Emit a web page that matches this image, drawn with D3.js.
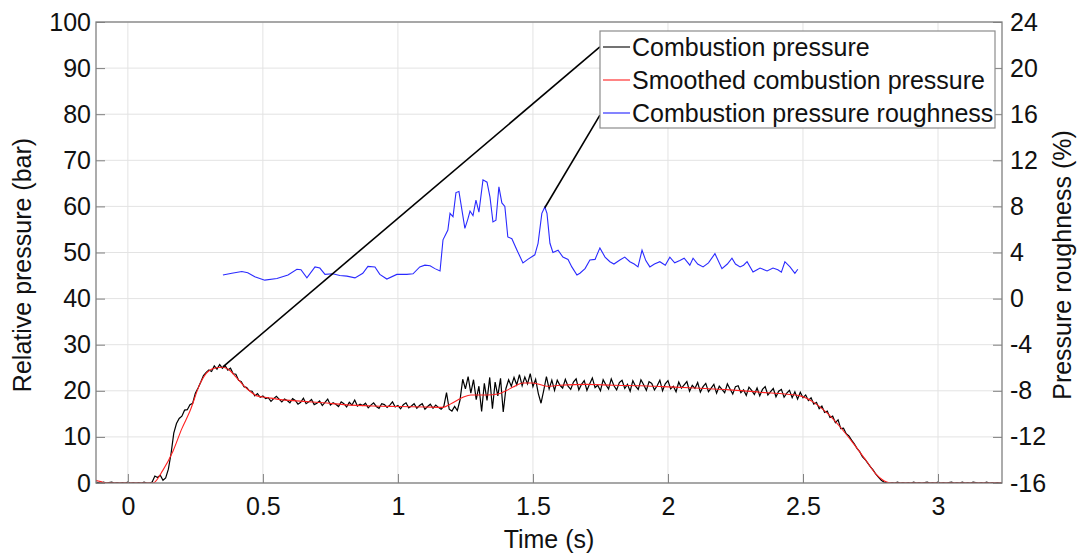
<!DOCTYPE html>
<html>
<head>
<meta charset="utf-8">
<script src="https://cdn.jsdelivr.net/npm/d3@7"></script>
<style>
body { margin: 0; background: #fff; }
text { font-family: "Liberation Sans", Arial, sans-serif; fill: #111; }
</style>
</head>
<body>
<svg width="1084" height="553"></svg>
<script>
// tick labels
const timeTicks = [0, 0.5, 1, 1.5, 2, 2.5, 3];
const pressureTicks = [0, 10, 20, 30, 40, 50, 60, 70, 80, 90, 100];
const roughnessTicks = [-16, -12, -8, -4, 0, 4, 8, 12, 16, 20, 24];

// raw combustion pressure (bar), sampled every 10 ms from t = -0.12 s
const rawStart = -0.12;
const rawStep = 0.01;
const rawPressure = [
  0.2, 0.1, 0.0, 0.2, 0.0, 0.1, 0.2, 0.0, 0.1, 0.0,
  0.1, 0.0, 0.2, 0.0, 0.1, 0.0, 0.1, 0.0, 0.2, 0.0,
  0.0, 0.2, 1.5, 1.2, 1.7, 0.6, 1.1, 3.0, 6.4, 10.8,
  12.9, 14.0, 14.5, 15.8, 15.9, 17.0, 17.3, 19.5, 20.6, 21.9,
  23.3, 24.0, 24.5, 24.2, 25.4, 24.7, 25.7, 24.9, 25.5, 24.5,
  24.9, 23.7, 23.6, 22.3, 22.0, 20.9, 20.7, 20.0, 19.9, 18.9,
  19.4, 18.6, 18.9, 18.3, 18.5, 17.7, 18.3, 18.8, 18.2, 17.6,
  18.2, 17.9, 17.4, 18.3, 17.9, 17.1, 17.5, 18.4, 17.2, 17.6,
  18.1, 17.0, 17.3, 17.8, 16.8, 17.5, 18.2, 16.9, 17.4, 17.1,
  16.6, 17.6, 17.2, 16.5, 17.5, 16.9, 18.0, 16.7, 17.1, 16.8,
  17.3, 16.3, 16.9, 17.4, 16.6, 16.2, 17.2, 17.0, 16.4, 16.9,
  17.6, 16.5, 16.8, 16.1, 17.0, 17.4, 16.3, 16.7, 17.2, 16.2,
  16.8, 17.2, 16.0, 16.6, 17.1, 16.2, 16.9, 16.4, 16.0, 16.6,
  19.6, 16.0, 15.6, 16.6, 15.7, 18.0, 22.5, 20.4, 23.1, 19.5,
  22.4, 18.1, 21.0, 15.5, 21.6, 17.9, 22.9, 16.1, 21.9, 18.9,
  22.7, 15.4, 20.5, 22.4, 21.0, 22.9, 21.3, 23.5, 21.1, 23.0,
  21.5, 23.7, 20.9, 22.5, 19.4, 17.3, 20.1, 23.1, 20.4, 22.3,
  20.1, 22.3, 21.2, 20.6, 22.5, 21.0, 20.3, 21.9, 22.6, 20.2,
  21.4, 22.2, 20.1, 21.5, 22.8, 20.7, 21.2, 20.0, 22.4, 21.3,
  20.4, 22.6, 21.1, 20.2, 21.8, 22.3, 20.5, 21.4, 19.9, 22.2,
  21.0, 20.3, 22.4, 21.3, 20.1, 22.0, 21.6, 20.2, 21.1, 22.3,
  20.0, 21.5, 22.2, 20.4, 21.0, 19.8, 21.9, 20.6, 21.3, 22.0,
  19.9, 21.2, 20.5, 21.8, 19.7, 20.9, 21.6, 19.8, 20.6, 21.4,
  19.5, 21.0, 20.3, 19.6, 21.5, 20.4, 19.3, 20.9, 21.1, 19.6,
  20.2, 19.0, 20.8, 20.1, 19.2, 20.6, 18.9, 20.3, 20.9, 19.1,
  19.8, 20.5, 18.7, 19.9, 20.3, 18.6, 19.5, 20.1, 18.5, 19.8,
  18.2, 19.7, 18.5, 19.1, 17.9, 18.5, 17.1, 17.5, 16.1, 16.7,
  15.3, 15.6, 14.2, 14.5, 13.1, 13.7, 11.8, 11.9, 10.7, 10.2,
  9.3, 8.5, 7.5, 6.8, 5.7, 5.1, 4.3, 3.5, 2.8, 1.9,
  1.2, 0.6, 0.2, 0.1, 0.0, 0.1, 0.0, 0.2, 0.0, 0.1,
  0.0, 0.1, 0.0, 0.2, 0.0, 0.1, 0.0, 0.1, 0.2, 0.0,
  0.1, 0.0, 0.2, 0.0, 0.1, 0.0, 0.1, 0.2, 0.0, 0.1,
  0.0, 0.2, 0.0, 0.1, 0.0, 0.2, 0.1, 0.0, 0.1, 0.0,
  0.2, 0.0, 0.1, 0.0, 0.1, 0.0, 0.1
];

// smoothed pressure (bar)
const smoothTime = [-0.12, -0.1, -0.08, 0.093, 0.13, 0.167, 0.2, 0.23, 0.267, 0.29, 0.32, 0.35,
  0.38, 0.4, 0.426, 0.45, 0.478, 0.52, 0.552, 0.65, 0.722, 0.8, 0.907, 1.0, 1.1, 1.167,
  1.2, 1.241, 1.27, 1.33, 1.37, 1.4, 1.426, 1.463, 1.5, 1.552, 1.6, 1.7, 1.8, 1.9, 1.98,
  2.1, 2.23, 2.34, 2.415, 2.489, 2.537, 2.589, 2.637, 2.685, 2.737, 2.774, 2.81, 2.83, 3.24];
const smoothPressure = [0.6, 0.3, 0, 0, 2.8, 6.9, 11.8, 15.6, 21.5, 23.8, 24.9, 25.1,
  24.3, 23.0, 21.3, 20.0, 18.9, 18.5, 18.2, 17.7, 17.4, 17.0, 16.7, 16.6, 16.5, 16.4,
  17.3, 18.6, 19.1, 19.1, 19.3, 20.0, 20.8, 21.7, 21.7, 21.0, 21.2, 21.4, 21.2, 21.1, 20.9,
  20.6, 20.2, 19.7, 19.4, 18.9, 17.6, 15.2, 12.2, 8.7, 4.6, 1.7, 0.2, 0, 0];

// pressure roughness (%)
const roughTime = [0.352, 0.385, 0.422, 0.444, 0.47, 0.507, 0.552, 0.593, 0.626, 0.641, 0.663,
  0.693, 0.711, 0.73, 0.759, 0.785, 0.811, 0.841, 0.87, 0.889, 0.915, 0.933, 0.959, 0.996,
  1.033, 1.056, 1.081, 1.1, 1.119, 1.137, 1.156, 1.167, 1.185, 1.193, 1.204, 1.215, 1.226,
  1.237, 1.248, 1.259, 1.267, 1.278, 1.289, 1.3, 1.315, 1.33, 1.341, 1.352, 1.363, 1.374,
  1.385, 1.396, 1.407, 1.422, 1.441, 1.463, 1.481, 1.507, 1.519, 1.533, 1.544, 1.552, 1.563,
  1.574, 1.593, 1.611, 1.63, 1.644, 1.663, 1.674, 1.693, 1.711, 1.73, 1.748, 1.767, 1.785,
  1.8, 1.822, 1.84, 1.859, 1.875, 1.889, 1.904, 1.918, 1.933, 1.95, 1.97, 1.99, 2.007, 2.025,
  2.044, 2.06, 2.081, 2.093, 2.11, 2.13, 2.15, 2.174, 2.2, 2.22, 2.237, 2.25, 2.267, 2.28,
  2.293, 2.315, 2.33, 2.341, 2.367, 2.389, 2.407, 2.42, 2.433, 2.452, 2.47, 2.481];
const roughness = [2.05, 2.2, 2.35, 2.25, 1.9, 1.6, 1.75, 2.05, 2.55, 2.5, 1.8,
  2.75, 2.65, 2.1, 2.15, 2.0, 1.95, 1.8, 2.2, 2.8, 2.75, 2.1, 1.7, 2.1,
  2.1, 2.15, 2.75, 2.9, 2.85, 2.6, 2.4, 5.1, 5.95, 7.4, 7.1, 9.2, 9.3,
  7.7, 6.1, 6.9, 7.6, 7.2, 8.55, 7.5, 10.3, 10.1, 8.8, 6.65, 6.8, 9.7,
  8.3, 8.0, 5.35, 5.2, 4.2, 3.1, 3.4, 3.8, 4.8, 7.4, 7.95, 7.4, 4.8,
  4.0, 4.2, 3.6, 3.4, 2.75, 2.05, 2.2, 2.6, 3.35, 3.4, 4.4, 3.6, 3.2,
  3.0, 3.35, 3.6, 3.2, 3.0, 2.75, 4.2, 3.3, 2.75, 3.0, 3.2, 2.9, 3.6, 3.1,
  3.3, 3.5, 2.9, 3.5, 3.0, 2.75, 3.1, 3.9, 2.6, 3.0, 3.5, 3.0, 2.75, 2.9,
  3.2, 2.3, 2.5, 2.65, 2.4, 2.65, 2.5, 2.3, 3.2, 2.75, 2.2, 2.55];

// stray connector lines towards the legend (time s, pressure bar)
const leaderFrom = [[0.352, 25.2], [1.544, 59.7]];
const leaderTo = [[1.748, 94.6], [1.748, 79.8]];

const legendNames = ["Combustion pressure", "Smoothed combustion pressure", "Combustion pressure roughness"];
const legendColors = ["#000000", "#ff2020", "#2020ff"];

const svg = d3.select("svg");
const plotLeft = 96, plotRight = 1002, plotTop = 22, plotBottom = 483;

const x = d3.scaleLinear().domain([-0.118, 3.237]).range([plotLeft, plotRight]);
const y = d3.scaleLinear().domain([0, 100]).range([plotBottom, plotTop]);
const yR = d3.scaleLinear().domain([-16, 24]).range([plotBottom, plotTop]);

svg.append("defs").append("clipPath").attr("id", "plot")
  .append("rect").attr("x", plotLeft).attr("y", plotTop)
  .attr("width", plotRight - plotLeft).attr("height", plotBottom - plotTop);

// grid
const grid = svg.append("g").attr("stroke", "#e3e3e3").attr("stroke-width", 1);
grid.selectAll(".gx").data(timeTicks).join("line")
  .attr("x1", d => x(d)).attr("x2", d => x(d)).attr("y1", plotTop).attr("y2", plotBottom);
grid.selectAll(".gy").data(pressureTicks).join("line")
  .attr("x1", plotLeft).attr("x2", plotRight).attr("y1", d => y(d)).attr("y2", d => y(d));

// series
const plot = svg.append("g").attr("clip-path", "url(#plot)");

const rawData = rawPressure.map((p, i) => [rawStart + i * rawStep, p]);
const smoothData = smoothTime.map((t, i) => [t, smoothPressure[i]]);
const roughData = roughTime.map((t, i) => [t, roughness[i]]);

const line = d3.line().x(d => x(d[0])).y(d => y(d[1]));
const lineR = d3.line().x(d => x(d[0])).y(d => yR(d[1]));

plot.append("path").attr("d", line(rawData))
  .attr("fill", "none").attr("stroke", "#000").attr("stroke-width", 1.2);
plot.append("path").attr("d", line.curve(d3.curveMonotoneX)(smoothData))
  .attr("fill", "none").attr("stroke", "#ff2020").attr("stroke-width", 1.1);
plot.append("path").attr("d", lineR(roughData))
  .attr("fill", "none").attr("stroke", "#2a2aff").attr("stroke-width", 1.1);

plot.selectAll(".leader").data(leaderFrom).join("line")
  .attr("x1", d => x(d[0])).attr("y1", d => y(d[1]))
  .attr("x2", (d, i) => x(leaderTo[i][0])).attr("y2", (d, i) => y(leaderTo[i][1]))
  .attr("stroke", "#000").attr("stroke-width", 1.6);

// axes
const fmt = d => String(d);
const styleAxis = g => {
  g.select(".domain").remove();
  g.selectAll(".tick line").attr("stroke", "#808080");
  g.selectAll("text").attr("font-size", 25).attr("fill", "#111")
    .style("font-family", "'Liberation Sans', Arial, sans-serif");
};

svg.append("g").attr("transform", `translate(0,${plotBottom})`)
  .call(d3.axisBottom(x).tickValues(timeTicks).tickFormat(fmt).tickSize(-9).tickPadding(14))
  .call(styleAxis);
svg.append("g").attr("transform", `translate(${plotLeft},0)`)
  .call(d3.axisLeft(y).tickValues(pressureTicks).tickFormat(fmt).tickSize(-9).tickPadding(5))
  .call(styleAxis);
svg.append("g").attr("transform", `translate(${plotRight},0)`)
  .call(d3.axisRight(yR).tickValues(roughnessTicks).tickFormat(fmt).tickSize(-9).tickPadding(8))
  .call(styleAxis);

svg.append("rect").attr("x", plotLeft).attr("y", plotTop)
  .attr("width", plotRight - plotLeft).attr("height", plotBottom - plotTop)
  .attr("fill", "none").attr("stroke", "#808080").attr("stroke-width", 1.3);

// axis titles
svg.append("text").attr("x", 549).attr("y", 548).attr("text-anchor", "middle")
  .attr("font-size", 25).text("Time (s)");
svg.append("text").attr("transform", "translate(31,265) rotate(-90)").attr("text-anchor", "middle")
  .attr("font-size", 25).text("Relative pressure (bar)");
svg.append("text").attr("transform", "translate(1071,265) rotate(-90)").attr("text-anchor", "middle")
  .attr("font-size", 25).text("Pressure roughness (%)");

// legend
const legend = svg.append("g");
legend.append("rect").attr("x", 600).attr("y", 31).attr("width", 395).attr("height", 97)
  .attr("fill", "#fff").attr("stroke", "#8c8c8c").attr("stroke-width", 1.2);
const rows = legend.selectAll(".row").data(legendNames).join("g")
  .attr("transform", (d, i) => `translate(0,${47 + i * 33})`);
rows.append("line").attr("x1", 603).attr("x2", 630).attr("y1", 0).attr("y2", 0)
  .attr("stroke", (d, i) => legendColors[i]).attr("stroke-width", 1.1);
rows.append("text").attr("x", 632).attr("y", 0).attr("dy", "0.35em")
  .attr("font-size", 25).text(d => d);
</script>
</body>
</html>
